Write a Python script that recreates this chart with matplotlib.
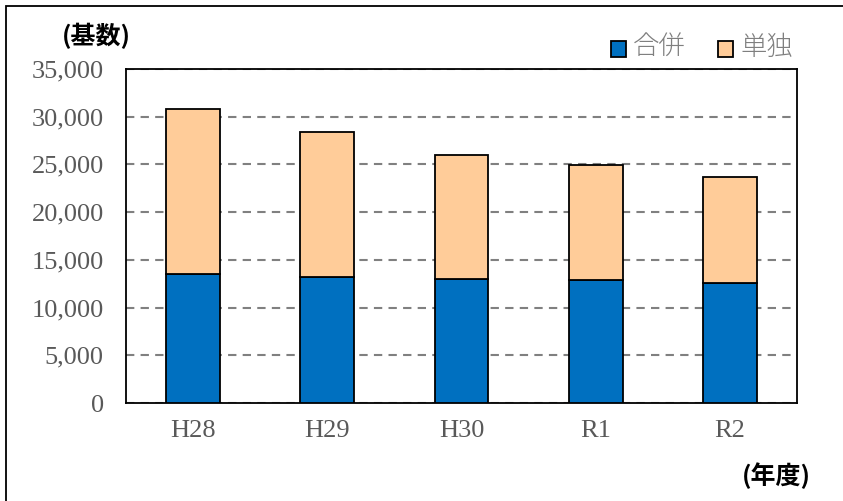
import matplotlib
matplotlib.use("Agg")
import matplotlib.pyplot as plt
from matplotlib.patches import Rectangle

categories = ["H28", "H29", "H30", "R1", "R2"]
merged = [13500, 13200, 13000, 12850, 12600]
single = [17300, 15200, 13000, 12100, 11100]
yticks = [0, 5000, 10000, 15000, 20000, 25000, 30000, 35000]

plt.rcParams['font.family'] = ['Noto Sans CJK JP', 'DejaVu Sans']

fig = plt.figure(figsize=(8.43, 5.01), dpi=100)
W, H = 843, 501
ax = fig.add_axes([126 / W, 1 - 403 / H, (797 - 126) / W, (403 - 69) / H])

x = list(range(len(categories)))
ax.bar(x, merged, width=0.4, color="#0070C0", edgecolor="black", linewidth=1.3, zorder=3)
ax.bar(x, single, width=0.4, bottom=merged, color="#FFCC99", edgecolor="black", linewidth=1.3, zorder=3)

ax.set_xlim(-0.5, len(categories) - 0.5)
ax.set_ylim(0, 35000)
ax.set_yticks(yticks)
ax.set_yticklabels([f"{v:,}" for v in yticks], fontfamily="Liberation Serif", fontsize=19, color="#595959")
ax.set_xticks(x)
ax.set_xticklabels(categories, fontfamily="Liberation Serif", fontsize=19, color="#595959")
ax.tick_params(axis="y", length=0, pad=16)
ax.tick_params(axis="x", length=0, pad=12)
ax.yaxis.grid(True, linestyle=(0, (4, 3)), color="#808080", linewidth=1.5, zorder=0)
for s in ax.spines.values():
    s.set_color("black")
    s.set_linewidth(1.3)

fig.text(62 / W, 1 - 36 / H, "(基数)", fontsize=18, fontweight="bold", va="center", ha="left")
fig.text(811 / W, 1 - 476 / H, "(年度)", fontsize=18, fontweight="bold", va="center", ha="right")

# legend
for (px, col, lab) in [(611, "#0070C0", "合併"), (718, "#FFCC99", "単独")]:
    fig.patches.append(Rectangle((px / W, 1 - 57 / H), 15 / W, 16 / H, transform=fig.transFigure,
                                 facecolor=col, edgecolor="black", linewidth=1.3))
    fig.text((px + 22) / W, 1 - 47 / H, lab, fontsize=19, color="#7F7F7F", va="center", ha="left",
             fontweight="light")

# outer frame
fig.patches.append(Rectangle((6 / W, -0.1), 1.2, 1 - 6 / H + 0.1, transform=fig.transFigure,
                             facecolor="none", edgecolor="black", linewidth=1.3))

fig.savefig("out.png", dpi=100)
